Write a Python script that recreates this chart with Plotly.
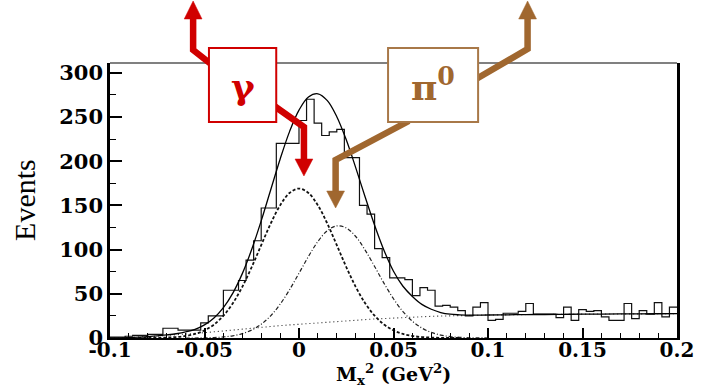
import numpy as np
import plotly.graph_objects as go

# ---------------- data ----------------
HIST_START = -0.1
HIST_WIDTH = 0.004
HIST_COUNTS = [1, 1, 2, 3, 3, 4, 4, 11, 11, 9,
               9, 9, 17, 25, 25, 54, 54, 65, 88, 110,
               147, 147, 220, 220, 220, 246, 270, 243, 229, 233,
               236, 204, 204, 150, 140, 101, 91, 68, 68, 66,
               48, 57, 54, 36, 37, 35, 31, 25, 35, 40,
               20, 21, 28, 28, 30, 39, 27, 27, 27, 23,
               35, 20, 32, 30, 31, 24, 20, 20, 39, 22,
               31, 27, 40, 24, 35]

CURVE_X = [-0.1, -0.095, -0.09, -0.085, -0.08, -0.075, -0.07, -0.065, -0.06, -0.055,
           -0.05, -0.045, -0.04, -0.035, -0.03, -0.025, -0.02, -0.015, -0.01, -0.005,
           0.0, 0.005, 0.01, 0.015, 0.02, 0.025, 0.03, 0.035, 0.04, 0.045,
           0.05, 0.055, 0.06, 0.065, 0.07, 0.075, 0.08, 0.085, 0.09, 0.095,
           0.1, 0.11, 0.12, 0.13, 0.14, 0.15, 0.16, 0.17, 0.18, 0.19, 0.2]

TOTAL_FIT = [0.0, 0.2, 0.5, 1.0, 1.6, 2.4, 3.5, 4.8, 6.8, 9.8,
             14.8, 22.7, 34.4, 50.8, 72.8, 100.3, 132.5, 167.4, 202.2, 233.4,
             257.7, 272.5, 276.2, 268.5, 250.3, 224.1, 192.7, 159.5, 127.6, 99.0,
             75.5, 58.5, 47.0, 38.0, 32.5, 28.8, 26.9, 26.2, 25.8, 25.9,
             26.0, 26.2, 26.5, 26.6, 26.8, 27.0, 27.1, 27.2, 27.3, 27.4, 27.5]

BACKGROUND = [0.0, 0.2, 0.5, 1.0, 1.5, 2.2, 3.0, 3.7, 4.5, 5.2,
              6.0, 7.0, 8.0, 9.0, 10.0, 11.0, 12.0, 13.0, 14.0, 14.8,
              15.5, 16.3, 17.0, 17.8, 18.5, 19.3, 20.0, 20.8, 21.5, 22.0,
              22.5, 23.0, 23.5, 24.0, 24.5, 24.8, 25.0, 25.3, 25.5, 25.8,
              26.0, 26.2, 26.5, 26.6, 26.8, 27.0, 27.1, 27.2, 27.3, 27.4, 27.5]

GAMMA_X = [-0.085, -0.08, -0.075, -0.07, -0.065, -0.06, -0.055, -0.05, -0.045, -0.04,
           -0.035, -0.03, -0.025, -0.02, -0.015, -0.01, -0.005, 0.0, 0.005, 0.01,
           0.015, 0.02, 0.025, 0.03, 0.035, 0.04, 0.045, 0.05, 0.055, 0.06,
           0.065, 0.07, 0.075, 0.08, 0.085]
GAMMA_FIT = [0.0, 0.1, 0.2, 0.5, 1.1, 2.3, 4.6, 8.6, 15.2, 25.2,
             39.3, 57.9, 80.3, 105.0, 129.3, 150.0, 164.0, 169.0, 164.0, 150.0,
             129.3, 105.0, 80.3, 57.9, 39.3, 25.2, 15.2, 8.6, 4.6, 2.3,
             1.1, 0.5, 0.2, 0.1, 0.0]

PI0_X = [-0.06, -0.055, -0.05, -0.045, -0.04, -0.035, -0.03, -0.025, -0.02, -0.015,
         -0.01, -0.005, 0.0, 0.005, 0.01, 0.015, 0.02, 0.025, 0.03, 0.035,
         0.04, 0.045, 0.05, 0.055, 0.06, 0.065, 0.07, 0.075, 0.08, 0.085,
         0.09, 0.095, 0.1]
PI0_FIT = [0.0, 0.0, 0.2, 0.5, 1.2, 2.5, 4.9, 9.0, 15.5, 25.1,
           38.2, 54.6, 73.2, 92.2, 109.2, 121.4, 126.8, 124.5, 114.8, 99.4,
           80.9, 61.8, 44.4, 29.9, 19.0, 11.3, 6.3, 3.3, 1.6, 0.8,
           0.3, 0.1, 0.0]

X_TICKS = [-0.1, -0.05, 0, 0.05, 0.1, 0.15, 0.2]
X_TICK_LABELS = ["-0.1", "-0.05", "0", "0.05", "0.1", "0.15", "0.2"]
Y_TICKS = [0, 50, 100, 150, 200, 250, 300]
Y_TICK_LABELS = ["0", "50", "100", "150", "200", "250", "300"]

GAMMA_LABEL = "γ"
PI0_LABEL = "π<sup>0</sup>"
X_TITLE = "M<sub>x</sub><sup>2</sup> (GeV<sup>2</sup>)"
Y_TITLE = "Events"

# ---------------- figure ----------------
W, H = 706, 388
ML, MR, MT, MB = 110, 23, 63, 50
PW, PH = W - ML - MR, H - MT - MB

def px(x):
    return (x - ML) / PW

def py(y):
    return (H - MB - y) / PH

RED = "#d00000"
BROWN = "#a0672f"
FONT = "DejaVu Serif"

edges = HIST_START + HIST_WIDTH * np.arange(len(HIST_COUNTS) + 1)
hist_y = list(HIST_COUNTS) + [HIST_COUNTS[-1]]

fig = go.Figure()
fig.add_trace(go.Scatter(x=edges, y=hist_y, mode="lines", line=dict(shape="hv", color="#111111", width=1.2),
                         hoverinfo="skip"))
fig.add_trace(go.Scatter(x=CURVE_X, y=BACKGROUND, mode="lines",
                         line=dict(color="#222222", width=1.1, dash="1px,3px", shape="spline")))
fig.add_trace(go.Scatter(x=PI0_X, y=PI0_FIT, mode="lines",
                         line=dict(color="#222222", width=1.2, dash="4px,2px,1px,2px", shape="spline")))
fig.add_trace(go.Scatter(x=GAMMA_X, y=GAMMA_FIT, mode="lines",
                         line=dict(color="#111111", width=1.8, dash="3px,2px", shape="spline")))
fig.add_trace(go.Scatter(x=CURVE_X, y=TOTAL_FIT, mode="lines",
                         line=dict(color="#000000", width=1.3, shape="spline")))

shapes = []
# grey top frame line
shapes.append(dict(type="line", xref="paper", yref="paper", x0=0, x1=1, y0=1, y1=1,
                   line=dict(color="#808080", width=2), layer="above"))

def polyline(points, color, width=6.5):
    d = "M " + " L ".join(f"{px(a):.5f},{py(b):.5f}" for a, b in points)
    return dict(type="path", xref="paper", yref="paper", path=d,
                line=dict(color=color, width=width), layer="above")

def head(tipx, tipy, basey, half, color):
    d = (f"M {px(tipx - half):.5f},{py(basey):.5f} L {px(tipx + half):.5f},{py(basey):.5f} "
         f"L {px(tipx):.5f},{py(tipy):.5f} Z")
    return dict(type="path", xref="paper", yref="paper", path=d,
                fillcolor=color, line=dict(color=color, width=0.5), layer="above")

# gamma arrows
shapes.append(polyline([(212, 64), (194, 50), (194, 18)], RED))
shapes.append(head(194, 1, 19, 9, RED))
shapes.append(polyline([(276, 106), (306, 127), (306, 160)], RED))
shapes.append(head(306, 176, 159, 9, RED))
# pi0 arrows
shapes.append(polyline([(480, 79), (532, 49), (532, 18)], BROWN))
shapes.append(head(532, 1, 19, 9, BROWN))
shapes.append(polyline([(412, 121), (338, 160), (338, 192)], BROWN))
shapes.append(head(338, 208, 191, 9, BROWN))
# boxes
shapes.append(dict(type="rect", xref="paper", yref="paper", x0=px(210), x1=px(278), y0=py(122), y1=py(48),
                   fillcolor="white", line=dict(color=RED, width=2), layer="above"))
shapes.append(dict(type="rect", xref="paper", yref="paper", x0=px(391), x1=px(482), y0=py(122), y1=py(48),
                   fillcolor="white", line=dict(color="#a87848", width=2), layer="above"))

annotations = [
    dict(text=f"<b>{GAMMA_LABEL}</b>", xref="paper", yref="paper", x=px(244), y=py(86), showarrow=False,
         font=dict(family=FONT, size=36, color=RED), xanchor="center", yanchor="middle"),
    dict(text=f"<b>{PI0_LABEL}</b>", xref="paper", yref="paper", x=px(436), y=py(84), showarrow=False,
         font=dict(family=FONT, size=36, color=BROWN), xanchor="center", yanchor="middle"),
    dict(text=f"<b>{X_TITLE}</b>", xref="paper", yref="paper", x=0.5, y=py(374), showarrow=False,
         font=dict(family=FONT, size=19, color="black"), xanchor="center", yanchor="middle"),
    dict(text=Y_TITLE, xref="paper", yref="paper", x=px(23), y=py(200), showarrow=False, textangle=-90,
         font=dict(family="Liberation Serif", size=30, color="black"), xanchor="center", yanchor="middle"),
]

fig.update_layout(
    width=W, height=H, margin=dict(l=ML, r=MR, t=MT, b=MB, pad=0),
    paper_bgcolor="white", plot_bgcolor="white", showlegend=False,
    shapes=shapes, annotations=annotations,
    xaxis=dict(range=[-0.1, 0.2], tickmode="array", tickvals=X_TICKS, ticktext=X_TICK_LABELS,
               ticks="inside", ticklen=10, tickwidth=1.5, tickcolor="black", ticklabelstandoff=-7,
               minor=dict(dtick=0.01, tick0=0, ticks="inside", ticklen=5, tickwidth=1.2, tickcolor="black"),
               showline=True, linecolor="black", linewidth=2, mirror=False, showgrid=False, zeroline=False,
               tickfont=dict(family=FONT, size=20, color="black", weight="bold")),
    yaxis=dict(range=[0, 311], tickmode="array", tickvals=Y_TICKS, ticktext=Y_TICK_LABELS,
               ticks="inside", ticklen=12, tickwidth=1.5, tickcolor="black",
               minor=dict(dtick=25, tick0=0, ticks="inside", ticklen=6, tickwidth=1.2, tickcolor="black"),
               showline=True, linecolor="black", linewidth=2.5, mirror=True, showgrid=False, zeroline=False,
               tickfont=dict(family=FONT, size=21, color="black", weight="bold")),
)

fig.write_html("out.html", config={"displayModeBar": False},
               post_script="document.body.style.margin='0';")
